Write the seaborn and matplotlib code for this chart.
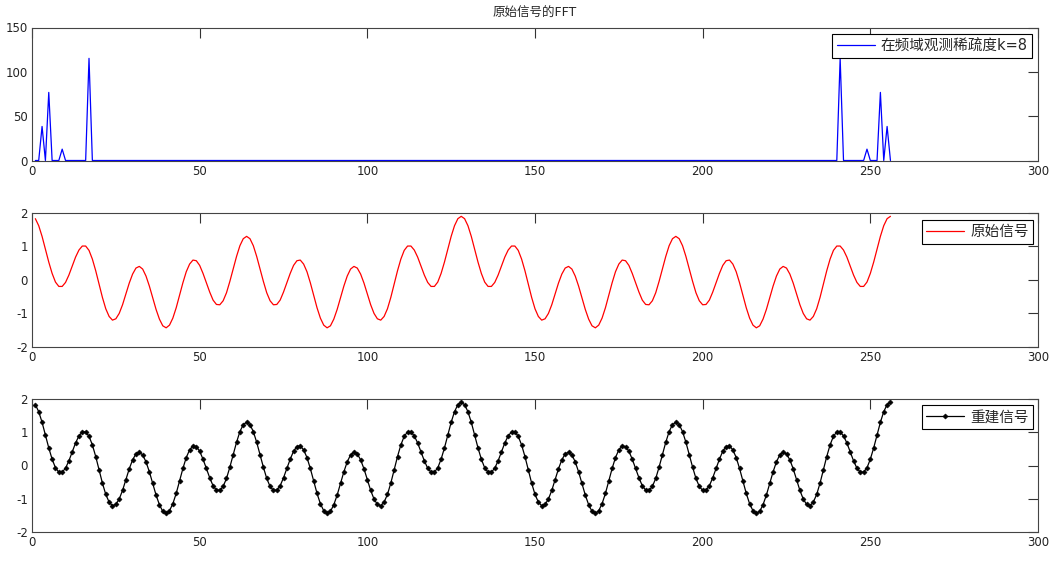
import numpy as np
import pandas as pd
import matplotlib
matplotlib.use("Agg")
import matplotlib.pyplot as plt
import seaborn as sns

# ---------------- data ----------------
sample_index = list(range(1, 257))

# FFT magnitude peaks (index on the plot, magnitude)
fft_peak_index = [3, 5, 9, 17, 241, 249, 253, 255]
fft_peak_value = [38.4, 76.8, 12.8, 115.2, 115.2, 12.8, 76.8, 38.4]

original_signal = [
    1.83, 1.62, 1.30, 0.92, 0.53, 0.19, -0.07, -0.20,
    -0.20, -0.08, 0.14, 0.41, 0.68, 0.89, 1.01, 1.01,
    0.88, 0.62, 0.27, -0.13, -0.53, -0.87, -1.10, -1.21,
    -1.17, -1.01, -0.75, -0.43, -0.10, 0.17, 0.35, 0.40,
    0.32, 0.11, -0.19, -0.54, -0.89, -1.18, -1.38, -1.44,
    -1.36, -1.15, -0.84, -0.47, -0.09, 0.24, 0.47, 0.59,
    0.57, 0.43, 0.19, -0.09, -0.37, -0.61, -0.74, -0.75,
    -0.63, -0.39, -0.05, 0.33, 0.70, 1.02, 1.23, 1.30,
    1.23, 1.02, 0.70, 0.33, -0.05, -0.39, -0.63, -0.75,
    -0.74, -0.61, -0.37, -0.09, 0.19, 0.43, 0.57, 0.59,
    0.47, 0.24, -0.09, -0.47, -0.84, -1.15, -1.36, -1.44,
    -1.38, -1.18, -0.89, -0.54, -0.19, 0.11, 0.32, 0.40,
    0.35, 0.17, -0.10, -0.43, -0.75, -1.01, -1.17, -1.21,
    -1.10, -0.87, -0.53, -0.13, 0.27, 0.62, 0.88, 1.01,
    1.01, 0.89, 0.68, 0.41, 0.14, -0.08, -0.20, -0.20,
    -0.07, 0.19, 0.53, 0.92, 1.30, 1.62, 1.83, 1.90,
    1.83, 1.62, 1.30, 0.92, 0.53, 0.19, -0.07, -0.20,
    -0.20, -0.08, 0.14, 0.41, 0.68, 0.89, 1.01, 1.01,
    0.88, 0.62, 0.27, -0.13, -0.53, -0.87, -1.10, -1.21,
    -1.17, -1.01, -0.75, -0.43, -0.10, 0.17, 0.35, 0.40,
    0.32, 0.11, -0.19, -0.54, -0.89, -1.18, -1.38, -1.44,
    -1.36, -1.15, -0.84, -0.47, -0.09, 0.24, 0.47, 0.59,
    0.57, 0.43, 0.19, -0.09, -0.37, -0.61, -0.74, -0.75,
    -0.63, -0.39, -0.05, 0.33, 0.70, 1.02, 1.23, 1.30,
    1.23, 1.02, 0.70, 0.33, -0.05, -0.39, -0.63, -0.75,
    -0.74, -0.61, -0.37, -0.09, 0.19, 0.43, 0.57, 0.59,
    0.47, 0.24, -0.09, -0.47, -0.84, -1.15, -1.36, -1.44,
    -1.38, -1.18, -0.89, -0.54, -0.19, 0.11, 0.32, 0.40,
    0.35, 0.17, -0.10, -0.43, -0.75, -1.01, -1.17, -1.21,
    -1.10, -0.87, -0.53, -0.13, 0.27, 0.62, 0.88, 1.01,
    1.01, 0.89, 0.68, 0.41, 0.14, -0.08, -0.20, -0.20,
    -0.07, 0.19, 0.53, 0.92, 1.30, 1.62, 1.83, 1.90,
]
# reconstruction recovers the original exactly
reconstructed_signal = list(original_signal)

x_ticks = [0, 50, 100, 150, 200, 250, 300]
fft_y_ticks = [0, 50, 100, 150]
sig_y_ticks = [-2, -1, 0, 1, 2]

title_text = "原始信号的FFT"
legend_fft = "在频域观测稀疏度k=8"
legend_orig = "原始信号"
legend_recon = "重建信号"

# build FFT magnitude table
fft_mag = np.zeros(len(sample_index))
for i, v in zip(fft_peak_index, fft_peak_value):
    fft_mag[i - 1] = v
df = pd.DataFrame({"n": sample_index, "fft": fft_mag,
                   "orig": original_signal, "recon": reconstructed_signal})

# ---------------- style ----------------
sns.set_style("white")
plt.rcParams["font.family"] = ["DejaVu Sans", "Noto Sans CJK SC"]
plt.rcParams["axes.unicode_minus"] = False

W, H = 1058, 564
fig = plt.figure(figsize=(W / 100, H / 100), dpi=100)

def px_axes(left, top, right, bottom):
    return fig.add_axes([left / W, 1 - bottom / H, (right - left) / W, (bottom - top) / H])

ax1 = px_axes(32, 27.5, 1038, 160.5)
ax2 = px_axes(32, 213, 1038, 346.5)
ax3 = px_axes(32, 399, 1038, 532)

sns.lineplot(data=df, x="n", y="fft", ax=ax1, color="#0000FF", lw=0.9,
             label=legend_fft, estimator=None)
sns.lineplot(data=df, x="n", y="orig", ax=ax2, color="#FF0000", lw=0.9,
             label=legend_orig, estimator=None)
sns.lineplot(data=df, x="n", y="recon", ax=ax3, color="black", lw=0.9,
             marker="D", markersize=2.6, markeredgewidth=0.4,
             markeredgecolor="black", markerfacecolor="black",
             label=legend_recon, estimator=None)

for ax, yt in [(ax1, fft_y_ticks), (ax2, sig_y_ticks), (ax3, sig_y_ticks)]:
    ax.set_xlim(0, 300)
    ax.set_ylim(yt[0], yt[-1])
    ax.set_xticks(x_ticks)
    ax.set_yticks(yt)
    ax.set_xlabel("")
    ax.set_ylabel("")
    ax.tick_params(direction="in", length=7, width=0.8, top=True, right=True,
                   labelsize=8.5, colors="#333333", labelcolor="#222222", pad=3)
    for s in ax.spines.values():
        s.set_color("#444444")
        s.set_linewidth(0.8)

ax1.set_title(title_text, fontsize=9, pad=8)

legend_kw = dict(loc="upper right", frameon=True, fancybox=False, fontsize=10.5,
                 handlelength=2.6, handletextpad=0.4, borderpad=0.3,
                 borderaxespad=0.0, framealpha=1, edgecolor="black")
ax1.legend(bbox_to_anchor=(0.994, 0.951), **legend_kw)
ax2.legend(bbox_to_anchor=(0.995, 0.948), **legend_kw)
ax3.legend(bbox_to_anchor=(0.995, 0.955), **legend_kw)
for ax in (ax1, ax2, ax3):
    ax.get_legend().get_frame().set_linewidth(0.8)

fig.savefig("out.png", dpi=100, facecolor="white")
